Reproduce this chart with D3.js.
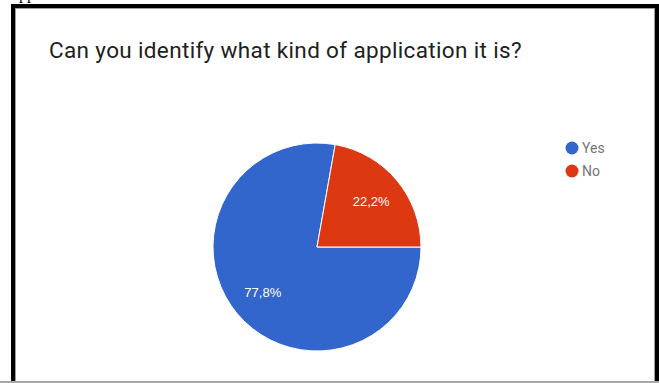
<!DOCTYPE html>
<html>
<head>
<meta charset="utf-8">
<script src="https://cdn.jsdelivr.net/npm/d3@7"></script>
<style>
body { margin: 0; background: #fff; }
svg { display: block; font-family: Roboto, Arial, sans-serif; }
</style>
</head>
<body>
<svg id="chart" width="659" height="383"></svg>
<script>
var title = "Can you identify what kind of application it is?";
var labels = ["Yes", "No"];
var values = [77.8, 22.2];
var colors = ["#3366cc", "#dc3912"];

var width = 659, height = 383;
var cx = 317, cy = 247, radius = 104;
var titleWidth = 473;

var svg = d3.select("#chart");

// frame of the screenshot
svg.append("rect")
.attr("x", 0).attr("y", 0)
.attr("width", width).attr("height", height)
.attr("fill", "#fff");
svg.append("text")
.attr("x", 19).attr("y", -1)
.attr("font-size", 16)
.attr("fill", "#000")
.attr("font-family", "Liberation Serif, serif")
.text("pp");
svg.append("rect")
.attr("x", 13).attr("y", 6)
.attr("width", 644).attr("height", 390)
.attr("fill", "#fff")
.attr("stroke", "#000")
.attr("stroke-width", 4);
svg.append("rect")
.attr("x", 15.5).attr("y", 8.5)
.attr("width", 639).attr("height", 373)
.attr("fill", "none")
.attr("stroke", "#9e9e9e")
.attr("stroke-width", 1);
svg.append("line")
.attr("x1", 0).attr("x2", width)
.attr("y1", 382).attr("y2", 382)
.attr("stroke", "#a8a8a8")
.attr("stroke-width", 2);

var titleText = svg.append("text")
.attr("x", 49).attr("y", 58)
.attr("font-size", 22.5)
.attr("fill", "#212121")
.text(title);
// nudge letter spacing so the title spans the same width as the original
var tw = titleText.node().getComputedTextLength();
titleText.attr("letter-spacing", ((titleWidth - tw) / title.length) + "px");

var pie = d3.pie()
.sort(null)
.startAngle(Math.PI/2)
.endAngle(Math.PI/2 + 2*Math.PI);

var arc = d3.arc().innerRadius(0).outerRadius(radius);
var labelArc = d3.arc().innerRadius(radius*0.68).outerRadius(radius*0.68);

var g = svg.append("g")
.attr("transform", "translate(" + [cx, cy] + ")");

var slices = pie(values);

g.selectAll("path").data(slices).enter()
.append("path")
.attr("d", arc)
.attr("fill", function(d, i) { return colors[i]; })
.attr("stroke", "#fff")
.attr("stroke-width", 1);

g.selectAll("text").data(slices).enter()
.append("text")
.attr("transform", function(d) { return "translate(" + labelArc.centroid(d) + ")"; })
.attr("text-anchor", "middle")
.attr("dy", "0.35em")
.attr("font-size", 13)
.attr("font-family", "Arial, Liberation Sans, sans-serif")
.attr("fill", "#fff")
.text(function(d) { return d.data.toFixed(1).replace(".", ",") + "%"; });

var legend = svg.append("g")
.attr("transform", "translate(572,148)");
var items = legend.selectAll("g").data(labels).enter()
.append("g")
.attr("transform", function(d, i) { return "translate(0," + i*23 + ")"; });
items.append("circle")
.attr("r", 6.5)
.attr("fill", function(d, i) { return colors[i]; });
items.append("text")
.attr("x", 10)
.attr("dy", "0.36em")
.attr("font-size", 14)
.attr("fill", "#757575")
.text(function(d) { return d; });
</script>
</body>
</html>
